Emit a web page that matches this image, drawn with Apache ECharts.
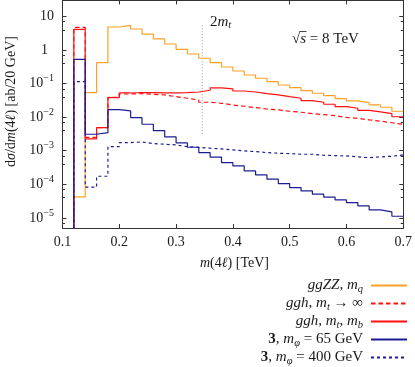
<!DOCTYPE html>
<html>
<head>
<meta charset="utf-8">
<script src="https://cdn.jsdelivr.net/npm/echarts@6/dist/echarts.min.js"></script>
<style>
html,body{margin:0;padding:0;background:#fff;}
#main{width:415px;height:367px;}
</style>
</head>
<body>
<div id="main"></div>
<script>
// 20 GeV bins, edges in TeV
var binEdges = [0.12,0.14,0.16,0.18,0.20,0.22,0.24,0.26,0.28,0.30,0.32,0.34,0.36,0.38,0.40,
                0.42,0.44,0.46,0.48,0.50,0.52,0.54,0.56,0.58,0.60,0.62,0.64,0.66,0.68,0.70];
// ab / 20 GeV, one value per bin
var ggZZ = [4.2e-5,0.0536,0.419,4.84,5.43,4.22,2.99,2.13,1.51,1.05,0.760,0.567,0.419,0.312,0.237,
            0.180,0.144,0.114,0.0908,0.0755,0.0615,0.0515,0.0436,0.0355,0.0304,0.0270,0.0231,0.0197,0.0150];
var gghHeavyTop = [4.74,0.00249,0.00487,0.0386,0.0490,0.0500,0.0481,0.0458,0.0408,0.0365,0.0325,0.0278,0.0259,0.0231,0.0211,
                   0.0192,0.0175,0.0164,0.0150,0.0140,0.0127,0.0119,0.0111,0.0098,0.0092,0.0083,0.0076,0.0068,0.0061];
var gghFull = [4.13,0.00225,0.00487,0.0380,0.0525,0.0543,0.0536,0.0525,0.0525,0.0536,0.0562,0.0632,0.0740,0.0691,0.0602,
               0.0562,0.0500,0.0458,0.0408,0.0365,0.0310,0.0278,0.0242,0.0205,0.0184,0.0160,0.0143,0.0127,0.0103];
var scalar65 = [0.528,0.00310,0.00346,0.0167,0.0153,0.00967,0.00615,0.00397,0.00257,0.00171,0.00127,0.000878,0.000641,0.000443,0.000353,
                0.000251,0.000190,0.000142,0.000105,7.98e-5,6.36e-5,5.07e-5,4.13e-5,3.43e-5,2.85e-5,2.28e-5,1.73e-5,1.51e-5,1.12e-5];
var scalar400 = [0.114,8.2e-5,1.74e-4,0.00132,0.00174,0.00183,0.00163,0.00156,0.00149,0.00132,0.00127,0.00119,0.00113,0.00106,0.000986,
                 0.000940,0.000878,0.000843,0.000820,0.000787,0.000787,0.000735,0.000715,0.000700,0.000654,0.000623,0.000654,0.000686,0.000750];
var seriesNames = ['ggZZ, m_q','ggh, m_t → ∞','ggh, m_t, m_b','3, m_φ = 65 GeV','3, m_φ = 400 GeV'];
var twoMt = 0.346;
var twoMtSpan = [0.0031, 5.9];

var FONT = 'Liberation Serif';
var TXT = '#1a1a1a';
var floorVal = 1e-8;   // below the axis, so the first step rises from the bottom

function histo(vals){
	var pts = [[binEdges[0], floorVal]];
	for(var i = 0;i < vals.length;i ++){
		pts.push([binEdges[i+1], vals[i]]);
	}
	return pts;
}

var legendText = {
	'ggZZ, m_q':'{i|ggZZ}{n|, }{i|m}{sub|q}{g|}',
	'ggh, m_t → ∞':'{i|ggh}{n|, }{i|m}{sub|t}{n| → ∞}{g|}',
	'ggh, m_t, m_b':'{i|ggh}{n|, }{i|m}{sub|t}{n|, }{i|m}{sub|b}{g|}',
	'3, m_φ = 65 GeV':'{b|3}{n|, }{i|m}{sub|φ}{n| = 65 GeV}{g|}',
	'3, m_φ = 400 GeV':'{b|3}{n|, }{i|m}{sub|φ}{n| = 400 GeV}{g|}'
};

var mychart = echarts.init(document.getElementById('main'));
var frame = {show:true, lineStyle:{color:'#333', width:1}};
var xCommon = {
	type:'value', min:0.1, max:0.7, interval:0.1,
	axisLine:frame, splitLine:{show:false},
	axisTick:{inside:true, length:4, lineStyle:{color:'#333'}}
};
var yCommon = {
	type:'log', min:5e-6, max:30, logBase:10,
	axisLine:frame, splitLine:{show:false},
	axisTick:{inside:true, length:4, lineStyle:{color:'#333'}},
	minorTick:{show:true, splitNumber:3, length:2.5, lineStyle:{color:'#333'}},
	minorSplitLine:{show:false}
};

function line(name, data, color, type){
	return {
		name:name, type:'line', step:'start', data:data,
		symbol:'none', showSymbol:false, silent:true,
		lineStyle:{color:color, width:1.2, type:type},
		itemStyle:{color:color, opacity:0}
	};
}

mychart.setOption({
	animation:false,
	textStyle:{fontFamily:FONT, color:TXT},
	grid:{left:62.5, right:11, top:0.4, bottom:139, containLabel:false},
	xAxis:[
		echarts.util.merge({
			position:'bottom',
			axisLabel:{margin:7, fontSize:14, fontFamily:FONT, color:TXT,
				formatter:function(v){ return v.toFixed(1); }}
		}, xCommon, true),
		echarts.util.merge({position:'top', axisLabel:{show:false}}, xCommon, true)
	],
	yAxis:[
		echarts.util.merge({
			position:'left',
			axisLabel:{
				margin:8.5, fontSize:14, fontFamily:FONT, color:TXT, lineHeight:20,
				showMinLabel:false, showMaxLabel:false,
				formatter:function(v){
					var e = Math.log10(v);
					if(Math.abs(e - Math.round(e)) > 1e-6) return '';
					e = Math.round(e);
					if(e === 1) return '10';
					if(e === 0) return '{one|1}';
					return '10{sup|' + (e < 0 ? '\u2212' + (-e) : e) + '}';
				},
				rich:{
					sup:{fontSize:10, lineHeight:8, verticalAlign:'top', fontFamily:FONT, color:TXT},
					one:{fontSize:14, lineHeight:20, padding:[0,6,0,0], fontFamily:FONT, color:TXT}
				}
			}
		}, yCommon, true),
		echarts.util.merge({position:'right', axisLabel:{show:false}}, yCommon, true)
	],
	legend:{
		data:seriesNames,
		orient:'vertical', align:'right',
		right:7, top:276.5, padding:0,
		itemWidth:36, itemHeight:18, itemGap:0,
		selectedMode:false,
		itemStyle:{opacity:0},
		formatter:function(name){ return legendText[name]; },
		textStyle:{
			fontFamily:FONT, fontSize:15, color:TXT, lineHeight:18,
			rich:{
				n:{fontFamily:FONT, fontSize:15, lineHeight:18, color:TXT},
				i:{fontFamily:FONT, fontSize:15, lineHeight:18, fontStyle:'italic', color:TXT},
				b:{fontFamily:FONT, fontSize:15, lineHeight:18, fontWeight:'bold', color:TXT},
				sub:{fontFamily:FONT, fontSize:10.5, lineHeight:10, verticalAlign:'bottom', fontStyle:'italic', color:TXT},
				g:{width:3}
			}
		}
	},
	graphic:[
		{type:'text', x:11, y:101.5, rotation:Math.PI/2,
			style:{text:'{n|d}{i|σ}{n|/d}{i|m}{n|(4}{i|ℓ}{n|) [ab/20 GeV]}', align:'center', verticalAlign:'middle',
				rich:{
					n:{fontFamily:FONT, fontSize:14, fill:TXT},
					i:{fontFamily:FONT, fontSize:14, fontStyle:'italic', fill:TXT}
				}}},
		{type:'text', x:234.5, y:263,
			style:{text:'{i|m}{n|(4}{i|ℓ}{n|) [TeV]}', align:'center', verticalAlign:'middle',
				rich:{
					n:{fontFamily:FONT, fontSize:14, fill:TXT},
					i:{fontFamily:FONT, fontSize:14, fontStyle:'italic', fill:TXT}
				}}},
		{type:'text', x:210, y:22,
			style:{text:'{n|2}{i|m}{sub|t}', align:'left', verticalAlign:'middle',
				rich:{
					n:{fontFamily:FONT, fontSize:15, lineHeight:18, fill:TXT},
					i:{fontFamily:FONT, fontSize:15, lineHeight:18, fontStyle:'italic', fill:TXT},
					sub:{fontFamily:FONT, fontSize:10.5, lineHeight:10, verticalAlign:'bottom', fontStyle:'italic', fill:TXT}
				}}},
		{type:'text', x:292, y:39,
			style:{text:'{n|√}{i|s}{n| = 8 TeV}', align:'left', verticalAlign:'middle',
				rich:{
					n:{fontFamily:FONT, fontSize:15, fill:TXT},
					i:{fontFamily:FONT, fontSize:15, fontStyle:'italic', fill:TXT}
				}}},
		{type:'line', shape:{x1:300, y1:31.5, x2:306.5, y2:31.5}, style:{stroke:TXT, lineWidth:0.8}}
	],
	series:[
		{
			name:'2mt', type:'line', data:[[twoMt, twoMtSpan[0]], [twoMt, twoMtSpan[1]]],
			symbol:'none', silent:true,
			lineStyle:{color:'#999', width:1, type:[1,2]}
		},
		line(seriesNames[0], histo(ggZZ), '#ffa126', 'solid'),
		line(seriesNames[1], histo(gghHeavyTop), '#ff1010', [4.5,3]),
		line(seriesNames[2], histo(gghFull), '#ff1010', 'solid'),
		line(seriesNames[3], histo(scalar65), '#1c1c92', 'solid'),
		line(seriesNames[4], histo(scalar400), '#1c1c92', [3,3])
	]
});
</script>
</body>
</html>
